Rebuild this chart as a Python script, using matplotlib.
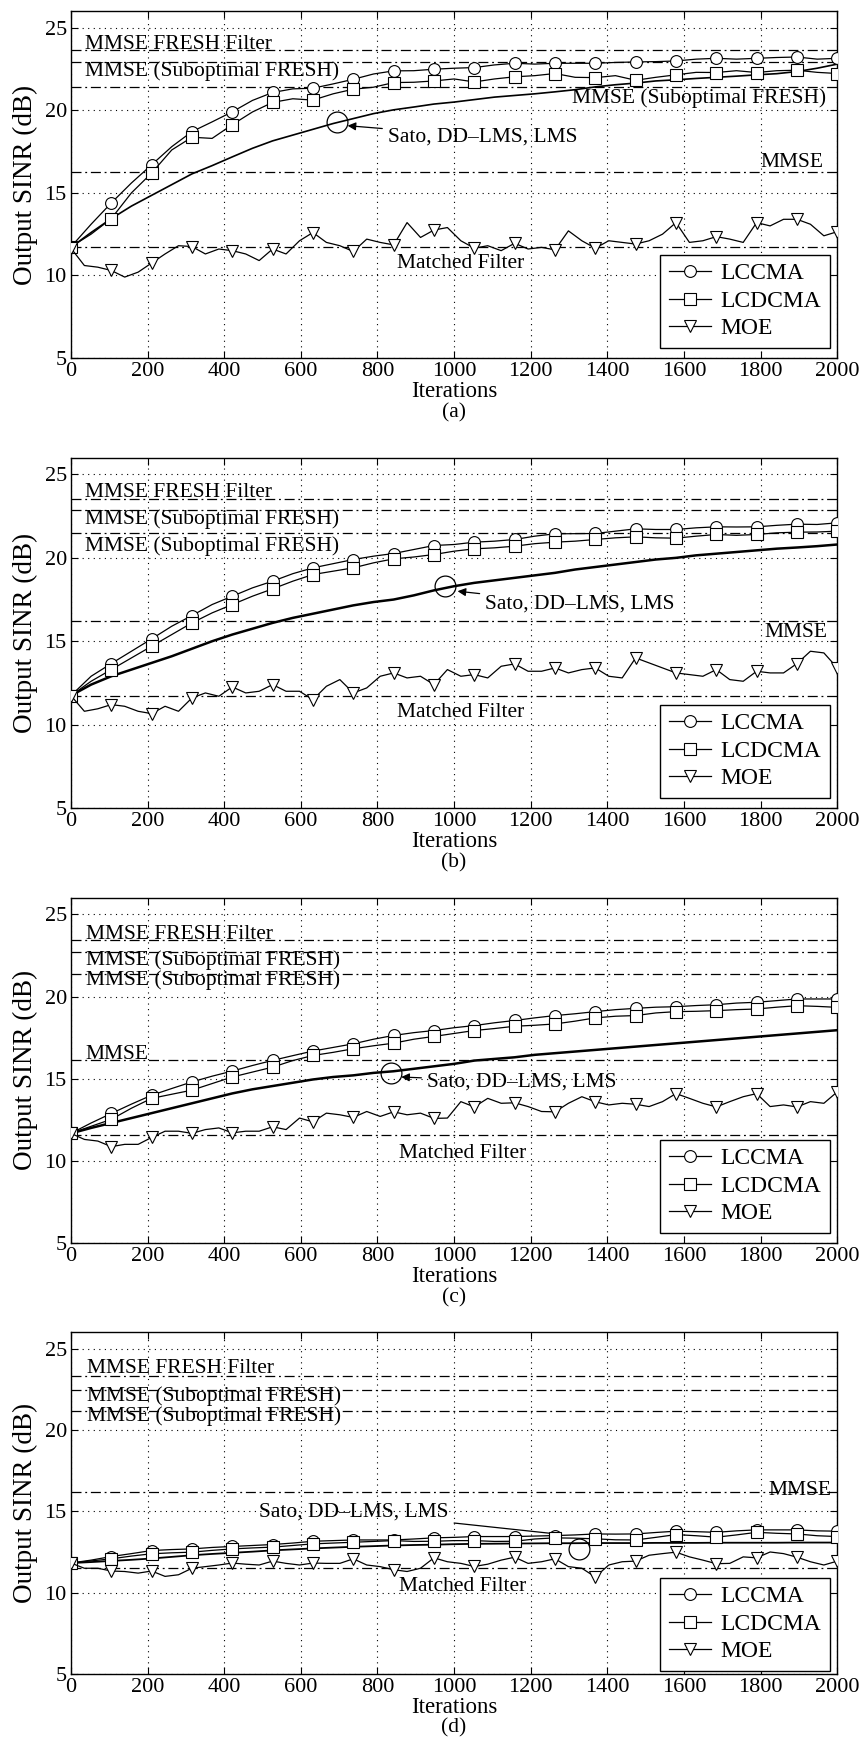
import numpy as np
import matplotlib.pyplot as plt

plt.rcParams['font.family'] = ['Liberation Serif', 'DejaVu Serif']

# iteration grids (markers every 2nd / 3rd sample -> 20 markers)
iterations = np.linspace(0, 2000, 39)
iterations_moe = np.linspace(0, 2000, 58)

# -------------------------------
# Panel (a)
# -------------------------------
lccma_a = [11.73, 13.1, 14.39, 15.6, 16.7, 17.8, 18.71, 19.3, 19.91, 20.6,
           21.08, 21.3, 21.34, 21.6, 21.88, 22.2, 22.39, 22.4, 22.49, 22.55,
           22.59, 22.75, 22.85, 22.8, 22.85, 22.85, 22.85, 22.9, 22.93, 22.95,
           22.99, 23.1, 23.15, 23.1, 23.15, 23.2, 23.23, 23.1, 23.15]
lcdcma_a = [11.73, 12.5, 13.44, 15.0, 16.2, 17.6, 18.37, 18.3, 19.13, 19.9,
            20.48, 20.7, 20.62, 21.0, 21.28, 21.4, 21.68, 21.7, 21.78, 21.9,
            21.72, 21.9, 22.03, 22.1, 22.23, 22.0, 21.98, 22.1, 21.82, 22.0,
            22.15, 22.3, 22.29, 22.4, 22.29, 22.4, 22.43, 22.3, 22.23]
sato_a = [11.7, 12.6, 13.44, 14.2, 14.85, 15.5, 16.15, 16.65, 17.18, 17.7,
          18.15, 18.5, 18.85, 19.2, 19.5, 19.8, 20.03, 20.2, 20.38, 20.5,
          20.65, 20.8, 20.9, 21.0, 21.12, 21.25, 21.42, 21.55, 21.65, 21.78,
          21.85, 21.93, 22.0, 22.07, 22.15, 22.22, 22.35, 22.55, 22.8]
moe_a = [11.65, 10.6, 10.5, 10.3, 9.9, 10.2, 10.75, 11.3, 11.8, 11.75,
         11.3, 11.6, 11.5, 11.3, 10.9, 11.6, 11.3, 12.1, 12.6, 12.0,
         11.8, 11.45, 12.2, 12.0, 11.85, 13.2, 12.3, 12.75, 12.9, 12.1,
         11.65, 11.8, 11.5, 11.95, 11.6, 11.7, 11.55, 12.7, 12.1, 11.65,
         12.1, 12.0, 11.9, 12.1, 12.5, 13.2, 12.0, 12.1, 12.35, 12.2,
         12.0, 13.2, 13.0, 13.4, 13.4, 13.1, 12.4, 12.65]
bounds_a = [23.65, 22.95, 21.42, 16.26, 11.73]

# -------------------------------
# Panel (b)
# -------------------------------
lccma_b = [11.74, 12.9, 13.66, 14.4, 15.14, 15.9, 16.54, 17.2, 17.7, 18.2,
           18.6, 19.05, 19.4, 19.65, 19.9, 20.1, 20.26, 20.5, 20.74, 20.8,
           20.94, 21.0, 21.1, 21.3, 21.44, 21.45, 21.46, 21.6, 21.74, 21.7,
           21.7, 21.8, 21.86, 21.85, 21.86, 21.95, 22.02, 22.0, 22.1]
lcdcma_b = [11.74, 12.6, 13.3, 14.0, 14.7, 15.4, 16.1, 16.7, 17.2, 17.7,
            18.14, 18.6, 19.0, 19.2, 19.4, 19.7, 19.94, 20.05, 20.2, 20.4,
            20.54, 20.6, 20.7, 20.85, 20.94, 21.0, 21.1, 21.2, 21.26, 21.2,
            21.18, 21.3, 21.4, 21.35, 21.4, 21.5, 21.54, 21.55, 21.6]
sato_b = [11.74, 12.4, 12.9, 13.3, 13.7, 14.1, 14.55, 15.0, 15.4, 15.75,
          16.1, 16.4, 16.65, 16.9, 17.15, 17.35, 17.5, 17.75, 18.05, 18.3,
          18.5, 18.65, 18.8, 18.95, 19.1, 19.3, 19.45, 19.6, 19.75, 19.9,
          20.0, 20.15, 20.25, 20.35, 20.45, 20.55, 20.62, 20.7, 20.8]
moe_b = [11.74, 10.8, 10.95, 11.2, 11.1, 10.8, 10.66, 11.1, 10.8, 11.6,
         11.9, 11.7, 12.26, 11.9, 12.0, 12.4, 12.0, 12.0, 11.5, 12.3,
         12.7, 11.9, 12.2, 12.9, 13.1, 12.8, 12.9, 12.4, 13.3, 12.9,
         13.0, 12.8, 13.5, 13.64, 13.2, 13.2, 13.4, 13.1, 13.3, 13.4,
         12.9, 12.8, 14.0, 13.7, 13.4, 13.1, 13.0, 12.9, 13.3, 12.7,
         12.6, 13.2, 13.1, 13.1, 13.66, 14.4, 14.3, 13.4]
bounds_b = [23.54, 22.86, 21.5, 16.24, 11.74]

# -------------------------------
# Panel (c)
# -------------------------------
lccma_c = [11.67, 12.3, 12.88, 13.45, 13.99, 14.4, 14.8, 15.15, 15.46, 15.8,
           16.11, 16.4, 16.68, 16.9, 17.12, 17.4, 17.63, 17.8, 17.93, 18.1,
           18.23, 18.4, 18.54, 18.7, 18.84, 18.95, 19.08, 19.2, 19.28, 19.35,
           19.38, 19.45, 19.5, 19.6, 19.65, 19.75, 19.85, 19.85, 19.85]
lcdcma_c = [11.67, 12.1, 12.52, 13.2, 13.8, 14.05, 14.3, 14.7, 15.1, 15.4,
            15.7, 16.1, 16.41, 16.6, 16.82, 17.0, 17.16, 17.4, 17.57, 17.75,
            17.93, 18.05, 18.19, 18.25, 18.33, 18.5, 18.7, 18.8, 18.84, 19.0,
            19.08, 19.1, 19.14, 19.2, 19.24, 19.35, 19.44, 19.4, 19.34]
sato_c = [11.67, 12.0, 12.3, 12.6, 12.9, 13.2, 13.5, 13.8, 14.1, 14.35,
          14.55, 14.75, 14.95, 15.1, 15.2, 15.35, 15.45, 15.6, 15.75, 15.9,
          16.1, 16.2, 16.3, 16.45, 16.55, 16.65, 16.75, 16.85, 16.95, 17.05,
          17.15, 17.25, 17.35, 17.45, 17.55, 17.65, 17.75, 17.85, 17.95]
moe_c = [11.67, 11.3, 11.2, 10.86, 11.0, 11.0, 11.42, 11.8, 11.8, 11.67,
         11.9, 12.0, 11.7, 11.8, 11.8, 12.07, 11.9, 12.6, 12.37, 12.9,
         12.8, 12.64, 13.0, 12.7, 12.98, 12.8, 12.9, 12.58, 12.6, 13.6,
         13.28, 13.8, 13.5, 13.53, 13.3, 13.0, 12.98, 13.5, 13.9, 13.59,
         13.4, 13.5, 13.44, 13.3, 13.6, 14.09, 13.8, 13.5, 13.28, 13.6,
         13.9, 14.09, 13.3, 13.4, 13.28, 13.6, 13.5, 14.2]
bounds_c = [23.42, 22.72, 21.35, 16.15, 11.55]

# -------------------------------
# Panel (d)
# -------------------------------
lccma_d = [11.82, 12.0, 12.22, 12.4, 12.59, 12.65, 12.69, 12.78, 12.84, 12.9,
           12.96, 13.05, 13.16, 13.2, 13.24, 13.24, 13.24, 13.3, 13.37, 13.4,
           13.45, 13.45, 13.45, 13.48, 13.51, 13.55, 13.61, 13.6, 13.61, 13.7,
           13.78, 13.75, 13.71, 13.8, 13.86, 13.86, 13.86, 13.8, 13.78]
lcdcma_d = [11.82, 11.95, 12.08, 12.25, 12.39, 12.45, 12.49, 12.6, 12.69, 12.75,
            12.8, 12.9, 13.0, 13.05, 13.1, 13.15, 13.2, 13.15, 13.16, 13.2,
            13.2, 13.15, 13.16, 13.3, 13.37, 13.35, 13.31, 13.25, 13.24, 13.4,
            13.57, 13.5, 13.41, 13.55, 13.71, 13.65, 13.61, 13.5, 13.45]
sato_d = [11.82, 11.88, 11.95, 12.02, 12.1, 12.2, 12.3, 12.38, 12.45, 12.52,
          12.6, 12.66, 12.72, 12.77, 12.82, 12.86, 12.9, 12.93, 12.95, 12.98,
          13.0, 13.01, 13.02, 13.03, 13.04, 13.04, 13.05, 13.05, 13.05, 13.06,
          13.06, 13.06, 13.07, 13.07, 13.07, 13.07, 13.08, 13.08, 13.08]
moe_d = [11.82, 11.5, 11.5, 11.33, 11.3, 11.2, 11.33, 11.0, 11.1, 11.5,
         11.6, 11.7, 11.82, 11.75, 11.7, 11.94, 11.8, 11.7, 11.82, 11.8,
         11.8, 12.08, 11.7, 11.6, 11.41, 11.3, 11.5, 12.14, 11.9, 11.8,
         11.61, 11.75, 12.0, 12.18, 11.8, 11.9, 12.08, 11.6, 11.5, 10.96,
         11.7, 11.9, 11.94, 12.3, 12.4, 12.49, 12.2, 12.0, 11.78, 11.8,
         12.2, 12.14, 12.5, 12.4, 12.18, 11.9, 11.7, 11.94]
bounds_d = [23.3, 22.45, 21.2, 16.2, 11.5]

series = {
    'a': (lccma_a, lcdcma_a, sato_a, moe_a, bounds_a),
    'b': (lccma_b, lcdcma_b, sato_b, moe_b, bounds_b),
    'c': (lccma_c, lcdcma_c, sato_c, moe_c, bounds_c),
    'd': (lccma_d, lcdcma_d, sato_d, moe_d, bounds_d),
}

# layout: axes rectangles in figure fraction and text placement (data coords)
rects = {
    'a': [0.082, 0.7966, 0.886, 0.197],
    'b': [0.082, 0.5409, 0.886, 0.199],
    'c': [0.082, 0.2938, 0.886, 0.196],
    'd': [0.082, 0.0489, 0.886, 0.194],
}
labels = {
    'a': [('MMSE FRESH Filter', 36, 24.0, 'left'),
          ('MMSE (Suboptimal FRESH)', 36, 22.4, 'left'),
          ('MMSE (Suboptimal FRESH)', 1971, 20.74, 'right'),
          ('MMSE', 1964, 16.86, 'right'),
          ('Matched Filter', 852, 10.73, 'left')],
    'b': [('MMSE FRESH Filter', 36, 23.9, 'left'),
          ('MMSE (Suboptimal FRESH)', 36, 22.3, 'left'),
          ('MMSE (Suboptimal FRESH)', 36, 20.7, 'left'),
          ('MMSE', 1974, 15.5, 'right'),
          ('Matched Filter', 852, 10.7, 'left')],
    'c': [('MMSE FRESH Filter', 39, 23.8, 'left'),
          ('MMSE (Suboptimal FRESH)', 39, 22.2, 'left'),
          ('MMSE (Suboptimal FRESH)', 39, 21.0, 'left'),
          ('MMSE', 39, 16.5, 'left'),
          ('Matched Filter', 857, 10.45, 'left')],
    'd': [('MMSE FRESH Filter', 43, 23.8, 'left'),
          ('MMSE (Suboptimal FRESH)', 43, 22.1, 'left'),
          ('MMSE (Suboptimal FRESH)', 43, 20.86, 'left'),
          ('MMSE', 1985, 16.27, 'right'),
          ('Matched Filter', 856, 10.35, 'left')],
}
# circle centre, text anchor (left), arrow tip, arrow style
sato_note = {
    'a': ((694, 19.27), (827, 18.4), (722, 19.07), '-|>'),
    'b': ((977, 18.3), (1081, 17.2), (1009, 18.0), '-|>'),
    'c': ((836, 15.35), (929, 14.8), (862, 15.1), '-|>'),
    'd': ((1326, 12.7), (491, 14.94), (1271, 13.6), '-'),
}
sato_lw = {'a': 1.2, 'b': 1.8, 'c': 1.8, 'd': 1.3}

FS = 15.5
fig = plt.figure(figsize=(8.65, 17.6), dpi=100)

for key in ['a', 'b', 'c', 'd']:
    lccma, lcdcma, sato, moe, bounds = series[key]
    ax = fig.add_axes(rects[key])

    for b in bounds:
        ax.axhline(b, color='black', lw=0.9, ls='-.', dashes=(8, 3, 1.5, 3), zorder=1)

    ax.plot(iterations, sato, color='black', lw=sato_lw[key], zorder=3)
    l1, = ax.plot(iterations, lccma, color='black', lw=0.9, marker='o', ms=8.5,
                  mfc='white', mec='black', mew=0.8, markevery=2, label='LCCMA', zorder=4)
    l2, = ax.plot(iterations, lcdcma, color='black', lw=0.9, marker='s', ms=8,
                  mfc='white', mec='black', mew=0.8, markevery=2, label='LCDCMA', zorder=4)
    l3, = ax.plot(iterations_moe, moe, color='black', lw=0.9, marker='v', ms=9,
                  mfc='white', mec='black', mew=0.8, markevery=3, label='MOE', zorder=4)

    for txt, x, y, ha in labels[key]:
        ax.text(x, y, txt, fontsize=FS, ha=ha, va='center', zorder=5)

    circ, tpos, tip, style = sato_note[key]
    ax.plot(*circ, marker='o', ms=15, mfc='none', mec='black', mew=0.9, zorder=5)
    ax.annotate('Sato, DD–LMS, LMS', xy=tip, xytext=tpos, fontsize=FS,
                ha='left', va='center',
                arrowprops=dict(arrowstyle=style, color='black', lw=0.9,
                                shrinkA=2, shrinkB=0, mutation_scale=12))

    ax.set_xlim(0, 2000)
    ax.set_ylim(5, 26)
    ax.set_xticks(np.arange(0, 2001, 200))
    ax.set_yticks([5, 10, 15, 20, 25])
    ax.grid(True, color='black', ls=(0, (1, 4)), lw=0.8)
    ax.set_axisbelow(True)
    ax.tick_params(direction='in', top=True, right=True, length=5,
                   labelsize=16, pad=3)
    for sp in ax.spines.values():
        sp.set_linewidth(1.0)

    ax.set_xlabel('Iterations', fontsize=16.5, labelpad=0)
    ax.set_ylabel('Output SINR (dB)', fontsize=19.5, labelpad=5)
    ax.text(0.5, -0.158, f'({key})', transform=ax.transAxes, fontsize=FS,
            ha='center', va='center')

    ax.legend(handles=[l1, l2, l3], loc='lower right',
              bbox_to_anchor=(0.99, 0.03 if key != 'd' else 0.01),
              fontsize=17, frameon=True, fancybox=False, edgecolor='black',
              framealpha=1, handlelength=1.8, handletextpad=0.4, borderpad=0.35,
              labelspacing=0.25, borderaxespad=0)

fig.savefig('out.png', dpi=100)
